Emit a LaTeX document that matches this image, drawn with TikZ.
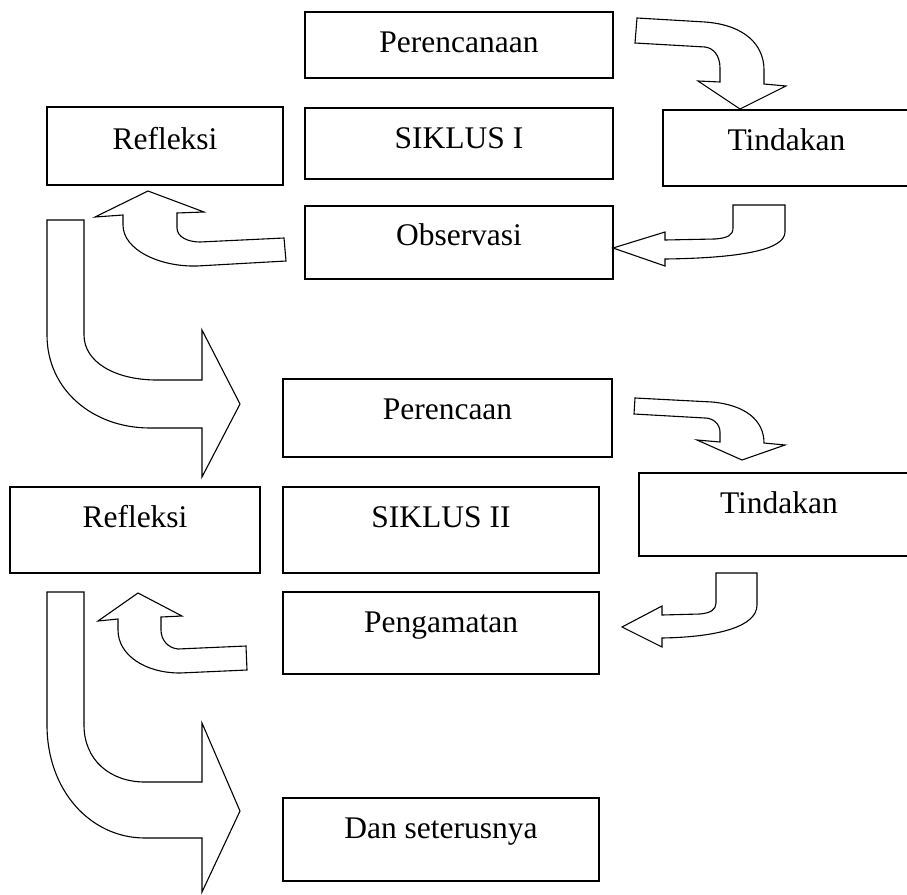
\documentclass[tikz,border=0pt]{standalone}
\usepackage{fontspec}
\setmainfont{Liberation Serif}
\usetikzlibrary{positioning}
\tikzset{
%Define style for boxes
    kotak/.style={
           rectangle,
           draw=black, line width=1.4pt,
           anchor=north west,
           inner xsep=0pt, inner ysep=0pt, outer sep=0pt,
           text height=40pt,
           font=\fontsize{31.5}{36}\selectfont,
           align=center},
% Define style for block arrows
    blok/.style={
           draw=black, fill=white,
           line width=1.1pt,
           line join=miter}
}
\begin{document}
\begin{tikzpicture}[x=1pt, y=-1pt]
\useasboundingbox (0,0) rectangle (907,894);
% boxes, siklus I
 \node[kotak, minimum width=308pt, text depth=26pt] (rencana1) at (305,12) {Perencanaan};
 \node[kotak, minimum width=236pt, text height=42pt, text depth=36pt] (refleksi1) at (47,107) {Refleksi};
 \node[kotak, minimum width=308pt, text depth=31pt] (siklus1) at (305,108) {SIKLUS I};
 \node[kotak, minimum width=247pt, text depth=36pt] (tindakan1) at (663,110) {Tindakan};
 \node[kotak, minimum width=308pt, text height=39pt, text depth=34pt] (observasi1) at (305,206) {Observasi};
% boxes, siklus II
 \node[kotak, minimum width=329pt, text depth=38pt] (rencana2) at (283,379) {Perencaan};
 \node[kotak, minimum width=250pt, text depth=46pt] (refleksi2) at (10,487) {Refleksi};
 \node[kotak, minimum width=316pt, text depth=46pt] (siklus2) at (283,487) {SIKLUS II};
 \node[kotak, minimum width=280pt, text depth=43pt] (tindakan2) at (639,473) {Tindakan};
 \node[kotak, minimum width=316pt, text depth=42pt] (pengamatan2) at (283,592) {Pengamatan};
 \node[kotak, minimum width=316pt, text depth=43pt] (lanjut) at (283,798) {Dan seterusnya};
% block arrows, siklus I
 \draw[blok] (637,18) -- (705,22) .. controls (745,25) and (764,45) .. (764,70) -- (764,84)
   -- (786,86) -- (740,109) -- (698,81) -- (720,82) -- (720,68)
   .. controls (720,55) and (713,48) .. (705,47) -- (635,43) -- cycle;
 \draw[blok] (733,205) -- (785,205) -- (785,232) .. controls (785,250) and (740,258) .. (665,259)
   -- (665,266) -- (613,248) -- (665,232) -- (665,240) -- (715,239)
   .. controls (728,238) and (733,235) .. (733,228) -- cycle;
 \draw[blok] (284,238) -- (286,261) -- (197,266) .. controls (160,267) and (123,250) .. (123,225)
   -- (123,215) -- (95,217) -- (148,191) -- (204,212) -- (177,213) -- (177,228)
   .. controls (177,237) and (188,242) .. (200,242) -- cycle;
 \draw[blok] (47,220) -- (84,220) -- (84,335) .. controls (84,362) and (115,380) .. (157,380)
   -- (202,380) -- (202,330) -- (240,404) -- (202,477) -- (202,428) -- (150,428)
   .. controls (93,428) and (47,390) .. (47,335) -- cycle;
% block arrows, siklus II
 \draw[blok] (635,398) -- (712,402) .. controls (745,405) and (764,420) .. (764,443)
   -- (785,445) -- (742,460) -- (697,440) -- (720,442) -- (720,432)
   .. controls (720,424) and (713,418) .. (705,418) -- (634,414) -- cycle;
 \draw[blok] (716,573) -- (757,573) -- (757,605) .. controls (757,626) and (720,637) .. (662,638)
   -- (662,647) -- (622,627) -- (662,606) -- (662,615) -- (700,614)
   .. controls (710,613) and (716,610) .. (716,603) -- cycle;
 \draw[blok] (246,646) -- (247,670) -- (180,673) .. controls (145,673) and (118,655) .. (118,630)
   -- (118,619) -- (98,621) -- (138,593) -- (182,616) -- (161,617) -- (161,630)
   .. controls (161,640) and (168,648) .. (178,649) -- cycle;
 \draw[blok] (47,592) -- (84,592) -- (84,725) .. controls (84,760) and (110,782) .. (145,782)
   -- (202,782) -- (202,723) -- (240,811) -- (202,892) -- (202,838) -- (145,838)
   .. controls (90,838) and (47,790) .. (47,725) -- cycle;
\end{tikzpicture}
\end{document}
